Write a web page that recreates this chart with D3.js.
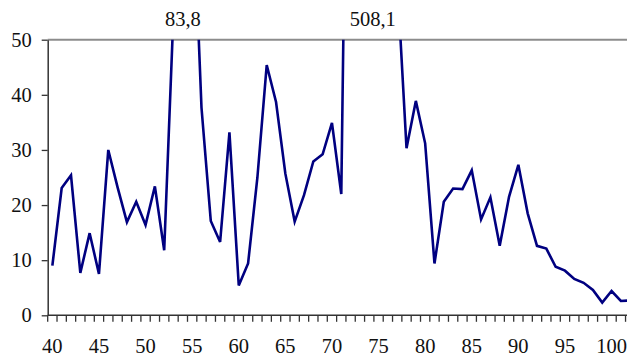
<!DOCTYPE html>
<html>
<head>
<meta charset="utf-8">
<script src="https://cdn.jsdelivr.net/npm/d3@7"></script>
<style>
  body { margin: 0; background: #fff; }
  svg { display: block; }
</style>
</head>
<body>
<div id="chart_wrapper"></div>
<script>
var width = 627,
    height = 356,
    margin = { left: 47.7, top: 39.7, bottom: 40.7 };
var fontFamily = "'Liberation Serif', 'Times New Roman', Times, 'DejaVu Serif', serif";

// categories 40..102 and the values
var categories = [40, 41, 42, 43, 44, 45, 46, 47, 48, 49,
                  50, 51, 52, 53, 54, 55, 56, 57, 58, 59,
                  60, 61, 62, 63, 64, 65, 66, 67, 68, 69,
                  70, 71, 72, 73, 74, 75, 76, 77, 78, 79,
                  80, 81, 82, 83, 84, 85, 86, 87, 88, 89,
                  90, 91, 92, 93, 94, 95, 96, 97, 98, 99,
                  100, 101, 102];
var values = [9.0, 23.1, 25.4, 7.7, 14.9, 7.5, 30.0, 23.2, 16.9, 20.6,
              16.4, 23.4, 11.8, 55.0, 83.8, 80.0, 37.7, 17.1, 13.3, 33.2,
              5.4, 9.4, 25.0, 45.4, 38.7, 25.7, 17.0, 21.8, 27.9, 29.2,
              34.9, 22.0, 150.0, 300.0, 508.1, 400.0, 200.0, 61.0, 30.3, 38.9,
              31.2, 9.4, 20.6, 23.0, 22.9, 26.3, 17.4, 21.4, 12.6, 21.5,
              27.3, 18.5, 12.6, 12.1, 8.8, 8.1, 6.6, 5.9, 4.6, 2.3,
              4.4, 2.6, 2.7];
var yTicks = [0, 10, 20, 30, 40, 50];
var xLabels = [40, 45, 50, 55, 60, 65, 70, 75, 80, 85, 90, 95, 100];
// values above the top of the scale, written over the cut
var peakLabels = [{cat: 54, text: "83,8", dx: 0}, {cat: 74, text: "508,1", dx: 3.5}];

var step = 9.32;
var x = d3.scaleBand().domain(categories)
    .range([margin.left, margin.left + categories.length * step]).padding(0);
var y = d3.scaleLinear().domain([0, 50]).range([height - margin.bottom, margin.top]);
var cx = function(d) { return x(d) + x.bandwidth() / 2; };

var svg = d3.select("#chart_wrapper").append("svg")
    .attr("width", width).attr("height", height)
    .style("font-family", fontFamily);

svg.append("clipPath").attr("id", "plotclip")
    .append("rect").attr("x", 0).attr("y", y(50)).attr("width", width).attr("height", y(0) - y(50) + 10);

// top line at 50
svg.append("line")
    .attr("x1", margin.left).attr("x2", width)
    .attr("y1", y(50)).attr("y2", y(50))
    .attr("stroke", "#8c8c8c").attr("stroke-width", 2);

// Y axis
svg.append("g")
    .attr("transform", "translate(" + margin.left + ",0)")
    .call(d3.axisLeft(y).tickValues(yTicks).tickSize(6).tickPadding(10).tickSizeOuter(0))
    .call(function(g) {
        g.attr("font-family", null).attr("font-size", null);
        g.select(".domain").attr("stroke", "#333").attr("stroke-width", 1.5);
        g.selectAll(".tick line").attr("stroke", "#333").attr("stroke-width", 1.3);
        g.selectAll("text").style("font-size", "20.5px").attr("fill", "#111")
            .style("font-family", fontFamily);
    });

// X axis: ticks between categories, labels every 5
var xg = svg.append("g").attr("transform", "translate(0," + y(0) + ")");
xg.append("line").attr("x1", margin.left).attr("x2", width)
    .attr("stroke", "#333").attr("stroke-width", 1.5);
xg.selectAll(".xtick").data(categories).enter().append("line")
    .attr("class", "xtick")
    .attr("x1", (d) => x(d)).attr("x2", (d) => x(d))
    .attr("y1", 0).attr("y2", 6.5)
    .attr("stroke", "#333").attr("stroke-width", 1.3);
xg.selectAll(".xlabel").data(xLabels).enter().append("text")
    .attr("class", "xlabel")
    .attr("x", (d) => cx(d)).attr("y", 23.5).attr("dy", "0.71em")
    .attr("text-anchor", "middle").style("font-size", "20.5px").attr("fill", "#111")
    .style("font-family", fontFamily)
    .text((d) => d);

// the series
var line = d3.line()
    .x(function(d, i) { return cx(categories[i]); })
    .y(function(d) { return y(d); });

svg.append("path")
    .attr("clip-path", "url(#plotclip)")
    .attr("d", line(values))
    .attr("fill", "none")
    .attr("stroke", "#000080")
    .attr("stroke-width", 2.6)
    .attr("stroke-linejoin", "miter");

svg.selectAll(".peak").data(peakLabels).enter().append("text")
    .attr("class", "peak")
    .attr("x", (d) => cx(d.cat) + d.dx).attr("y", y(50) - 13.3)
    .attr("text-anchor", "middle").style("font-size", "20.5px").attr("fill", "#111")
    .style("font-family", fontFamily)
    .text((d) => d.text);
</script>
</body>
</html>
